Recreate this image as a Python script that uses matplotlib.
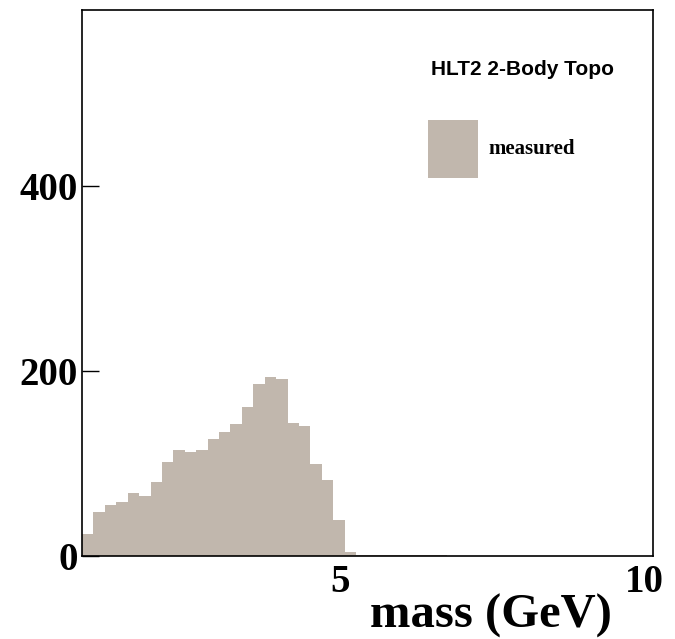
import numpy as np
import matplotlib
matplotlib.use('Agg')
import matplotlib.pyplot as plt
import matplotlib.transforms as mtransforms
from matplotlib.patches import Rectangle

# Histogram contents, 50 bins of 0.2 GeV from 0 to 10
bin_edges = np.linspace(0, 10, 51)
counts = [24, 48, 55, 58, 68, 65, 80, 102, 115, 112,
          115, 126, 134, 143, 161, 186, 193, 191, 144, 141,
          99, 82, 39, 4, 1, 1, 1, 1, 1, 1,
          1, 1, 0, 0, 0, 0, 0, 0, 0, 0,
          0, 0, 0, 0, 0, 0, 0, 0, 0, 0]
y_ticks = [0, 200, 400]
y_tick_labels = ['0', '200', '400']
x_ticks = [5, 10]
x_tick_labels = ['5', '10']

fill = '#c1b7ad'
serif = 'Liberation Serif'

fig = plt.figure(figsize=(6.75, 6.39), dpi=100)
ax = fig.add_axes([0.1215, 0.1299, 0.8459, 0.8545])

ax.stairs(counts, bin_edges, fill=True, color=fill, linewidth=0)

ax.set_xlim(0, 10)
ax.set_ylim(0, 590)

for s in ax.spines.values():
    s.set_linewidth(1.2)
    s.set_color('black')

ax.set_yticks(y_ticks)
ax.set_yticklabels(y_tick_labels, fontfamily=serif, fontweight='bold', fontsize=28)
ax.tick_params(axis='y', direction='in', length=12, width=1.0, pad=3)

ax.set_xticks(x_ticks)
ax.set_xticklabels(x_tick_labels, fontfamily=serif, fontweight='bold', fontsize=28)
ax.tick_params(axis='x', direction='in', length=0, pad=6)
# ROOT-style label offsets
offsets = [-27, -9]
for lab, dx in zip(ax.get_xticklabels(), offsets):
    lab.set_transform(lab.get_transform() +
                      mtransforms.ScaledTranslation(dx / 100, 0, fig.dpi_scale_trans))

fig.text(612 / 675, 1 - 616 / 639, 'mass (GeV)', ha='right', va='center',
         fontfamily=serif, fontweight='bold', fontsize=35)

# legend
ax.text(0.931, 0.891, 'HLT2 2-Body Topo', transform=ax.transAxes, ha='right', va='center',
        fontfamily='Liberation Sans', fontweight='bold', fontsize=15)
ax.add_patch(Rectangle((0.606, 0.692), 0.088, 0.107, transform=ax.transAxes,
                       facecolor=fill, edgecolor='none'))
ax.text(0.711, 0.746, 'measured', transform=ax.transAxes, ha='left', va='center',
        fontfamily=serif, fontweight='bold', fontsize=15)

fig.savefig('out.png', dpi=100)
